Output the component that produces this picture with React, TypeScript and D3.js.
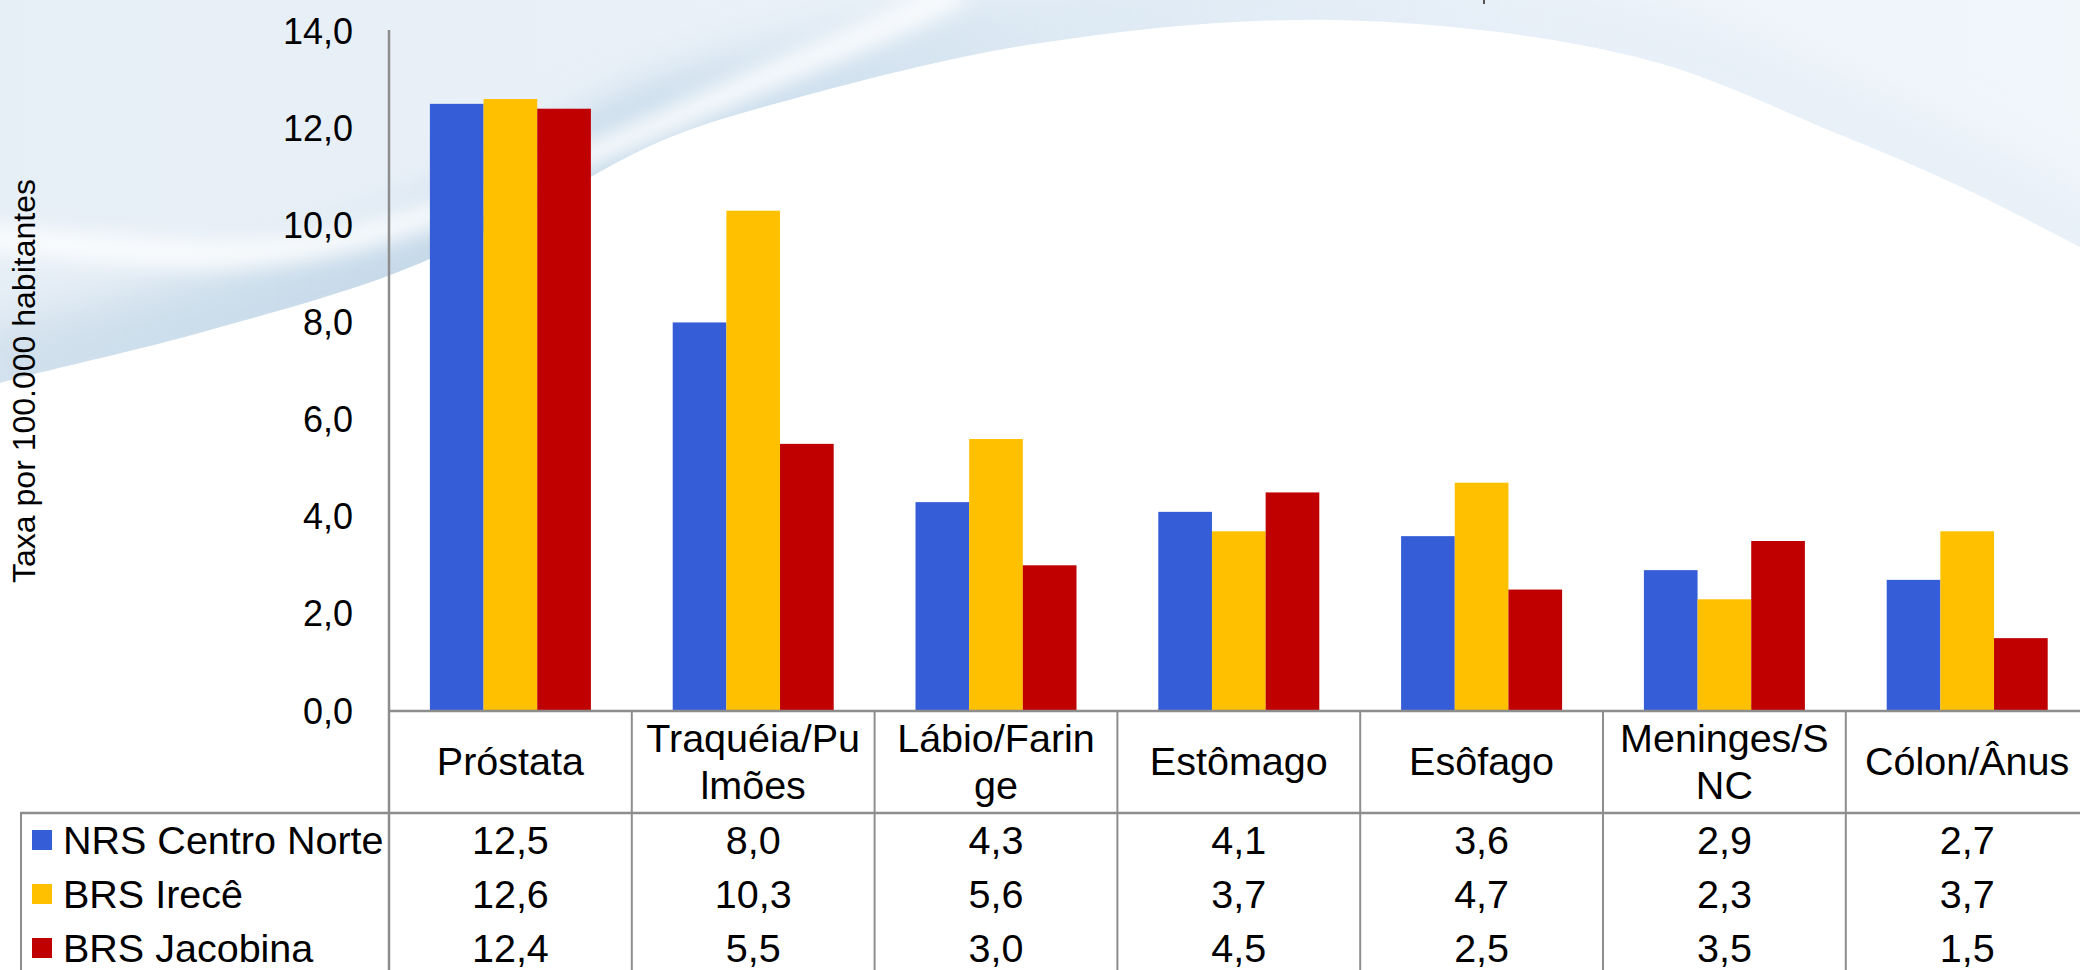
import React from "react";
import * as d3 from "d3";

// ---- data ----
const categoryLines: string[][] = [
  ["Próstata"],
  ["Traquéia/Pu", "lmões"],
  ["Lábio/Farin", "ge"],
  ["Estômago"],
  ["Esôfago"],
  ["Meninges/S", "NC"],
  ["Cólon/Ânus"],
];
const categoryKeys = ["Próstata", "Traquéia/Pulmões", "Lábio/Faringe", "Estômago", "Esôfago", "Meninges/SNC", "Cólon/Ânus"];
const seriesNames = ["NRS Centro Norte", "BRS Irecê", "BRS Jacobina"];
const nrsCentroNorte = [12.5, 8.0, 4.3, 4.1, 3.6, 2.9, 2.7];
const brsIrece = [12.6, 10.3, 5.6, 3.7, 4.7, 2.3, 3.7];
const brsJacobina = [12.4, 5.5, 3.0, 4.5, 2.5, 3.5, 1.5];
const seriesValues = [nrsCentroNorte, brsIrece, brsJacobina];
const seriesColors = ["#355DD7", "#FFC000", "#C00000"];
const yTicks = [0, 2, 4, 6, 8, 10, 12, 14];
const yTitle = "Taxa por 100.000 habitantes";

// decorative background curve (slide template), not data
const bgCurve: [number, number][] = [
  [-20, 390], [0, 383], [199, 333], [398, 272], [530, 210], [663, 140], [796, 98],
  [1040, 43], [1338, 20], [1637, 57], [1836, 133], [1968, 190], [2080, 247], [2110, 262],
];
const bgSwoosh: [number, number][] = [
  [-20, 236], [100, 248], [220, 254], [340, 240], [460, 205], [600, 150], [760, 80], [900, 20], [960, -10],
];

const W = 2080;
const H = 970;
const FONT = "'Liberation Sans', Arial, sans-serif";
const fmt = (v: number) => d3.format(".1f")(v).replace(".", ",");

export default function App() {
  const axisX = 389;
  const bandW = 242.8;
  const x = d3.scaleBand<string>().domain(categoryKeys).range([axisX, axisX + bandW * categoryKeys.length]).padding(0);
  const groupW = 161;
  const xs = d3.scaleBand<string>().domain(seriesNames).range([0, groupW]).padding(0);
  const y = d3.scaleLinear().domain([0, 14]).range([711, 31]);
  const y0 = y(0);
  const headerBottom = 813;
  const rowY = [840, 894, 948];
  const gridColor = "#8d8d8d";

  const curveLine = d3.line().curve(d3.curveCatmullRom.alpha(0.5));
  const boundary = curveLine(bgCurve) as string;
  const aboveRegion = boundary + " L2110,-20 L-20,-20 Z";
  const swoosh = curveLine(bgSwoosh) as string;

  return (
    <svg width={W} height={H} style={{ position: "absolute", left: 0, top: 0, display: "block" }} fontFamily={FONT}>
      <defs>
        <linearGradient id="topBlue" x1="0" y1="0" x2="1" y2="0">
          <stop offset="0" stopColor="#e6eef6" />
          <stop offset="0.4" stopColor="#eaf1f8" />
          <stop offset="1" stopColor="#f1f6fb" />
        </linearGradient>
        <linearGradient id="edgeBlue" gradientUnits="userSpaceOnUse" x1="0" y1="0" x2="2080" y2="0">
          <stop offset="0" stopColor="#cfdfec" stopOpacity="0.9" />
          <stop offset="0.3" stopColor="#bed5e7" stopOpacity="0.9" />
          <stop offset="0.5" stopColor="#d3e3f0" stopOpacity="0.6" />
          <stop offset="0.75" stopColor="#e2ecf6" stopOpacity="0.5" />
          <stop offset="1" stopColor="#e2ecf6" stopOpacity="0.5" />
        </linearGradient>
        <clipPath id="aboveClip">
          <path d={aboveRegion} />
        </clipPath>
        <filter id="blurBig" x="-20%" y="-50%" width="140%" height="200%">
          <feGaussianBlur stdDeviation="22" />
        </filter>
        <filter id="blurSmall" x="-20%" y="-50%" width="140%" height="200%">
          <feGaussianBlur stdDeviation="10" />
        </filter>
      </defs>

      {/* background */}
      <rect x={0} y={0} width={W} height={H} fill="#ffffff" />
      <g clipPath="url(#aboveClip)">
        <rect x={0} y={0} width={W} height={420} fill="url(#topBlue)" />
        <path d={boundary} fill="none" stroke="url(#edgeBlue)" strokeWidth={110} filter="url(#blurBig)" />
        <path d={swoosh} fill="none" stroke="#ffffff" strokeOpacity={0.85} strokeWidth={26} filter="url(#blurSmall)" />
      </g>
      <rect x={1483} y={0} width={2} height={4} fill="#555" />

      {/* bars */}
      {categoryKeys.map((c, ci) => {
        const gx = (x(c) as number) + (bandW - groupW) / 2;
        return (
          <g key={c}>
            {seriesNames.map((s, si) => {
              const v = seriesValues[si][ci];
              return (
                <rect
                  key={s}
                  x={gx + (xs(s) as number)}
                  y={y(v)}
                  width={xs.bandwidth()}
                  height={y0 - y(v)}
                  fill={seriesColors[si]}
                />
              );
            })}
          </g>
        );
      })}

      {/* y axis ticks */}
      {yTicks.map((t) => (
        <text key={t} x={353} y={y(t)} textAnchor="end" dominantBaseline="central" fontSize={36} fill="#000">
          {fmt(t)}
        </text>
      ))}
      <text
        transform={`translate(24,${381}) rotate(-90)`}
        textAnchor="middle"
        dominantBaseline="central"
        fontSize={32}
        fill="#000"
      >
        {yTitle}
      </text>

      {/* table grid */}
      <line x1={axisX} y1={30} x2={axisX} y2={H} stroke={gridColor} strokeWidth={2.5} />
      <line x1={axisX} y1={y0} x2={W} y2={y0} stroke={gridColor} strokeWidth={2.5} />
      <line x1={20} y1={headerBottom} x2={W} y2={headerBottom} stroke={gridColor} strokeWidth={2.5} />
      <line x1={21} y1={headerBottom} x2={21} y2={H} stroke={gridColor} strokeWidth={2} />
      {categoryKeys.slice(1).map((c) => (
        <line key={c} x1={x(c) as number} y1={y0} x2={x(c) as number} y2={H} stroke={gridColor} strokeWidth={2} />
      ))}

      {/* category labels */}
      {categoryKeys.map((c, ci) => {
        const cx = (x(c) as number) + bandW / 2;
        const lines = categoryLines[ci];
        const ys = lines.length === 1 ? [761] : [738, 785];
        return (
          <text key={c} textAnchor="middle" fontSize={39.5} fill="#000">
            {lines.map((l, li) => (
              <tspan key={li} x={cx} y={ys[li]} dominantBaseline="central">
                {l}
              </tspan>
            ))}
          </text>
        );
      })}

      {/* legend + values */}
      {seriesNames.map((s, si) => (
        <g key={s}>
          <rect x={32} y={rowY[si] - 10} width={20} height={20} fill={seriesColors[si]} />
          <text x={63} y={rowY[si]} dominantBaseline="central" fontSize={39.5} fill="#000">
            {s}
          </text>
          {categoryKeys.map((c, ci) => (
            <text
              key={c}
              x={(x(c) as number) + bandW / 2}
              y={rowY[si]}
              textAnchor="middle"
              dominantBaseline="central"
              fontSize={39.5}
              fill="#000"
            >
              {fmt(seriesValues[si][ci])}
            </text>
          ))}
        </g>
      ))}
    </svg>
  );
}
